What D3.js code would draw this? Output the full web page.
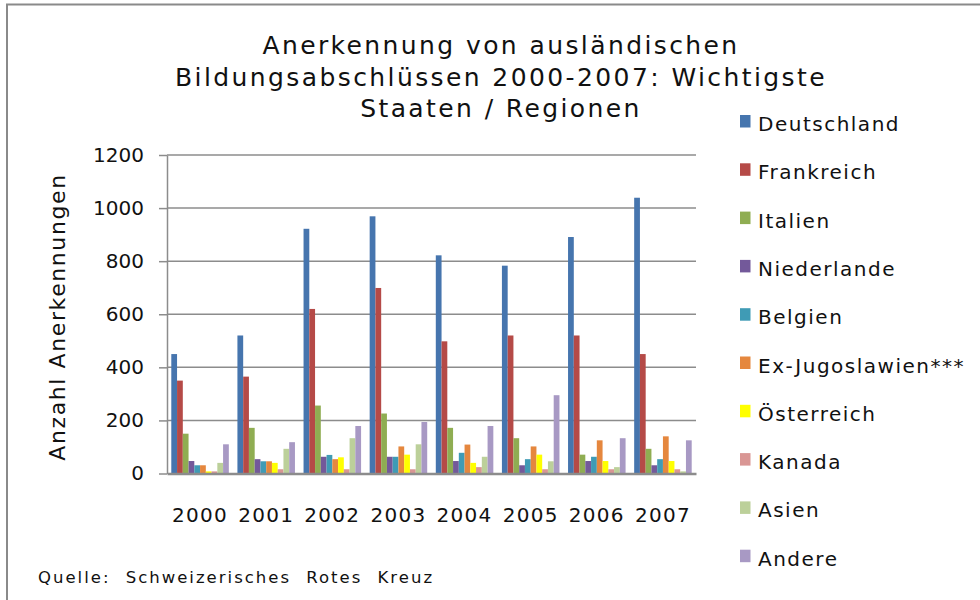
<!DOCTYPE html>
<html lang="de">
<head>
<meta charset="UTF-8">
<title>Anerkennung von ausländischen Bildungsabschlüssen</title>
<script src="https://d3js.org/d3.v7.min.js"></script>
<style>
    body { margin: 0; background: #fff; }
    svg { display: block; font-family: "DejaVu Sans", Verdana, sans-serif; }
</style>
</head>
<body>
<div id="chart"></div>
<script>
    // data
    var years = ['2000', '2001', '2002', '2003', '2004', '2005', '2006', '2007'];
    var regions = ['Deutschland', 'Frankreich', 'Italien', 'Niederlande', 'Belgien',
        'Ex-Jugoslawien***', 'Österreich', 'Kanada', 'Asien', 'Andere'];
    var deutschland = [450, 520, 922, 969, 822, 783, 891, 1039];
    var frankreich = [350, 365, 620, 699, 498, 520, 520, 450];
    var italien = [150, 172, 256, 226, 172, 133, 71, 93];
    var niederlande = [47, 54, 63, 63, 47, 31, 47, 31];
    var belgien = [31, 46, 70, 63, 78, 54, 63, 54];
    var exJugoslawien = [31, 46, 54, 102, 109, 102, 125, 140];
    var oesterreich = [8, 40, 61, 71, 40, 71, 47, 47];
    var kanada = [8, 16, 16, 16, 24, 16, 16, 16];
    var asien = [40, 93, 133, 110, 63, 46, 24, 8];
    var andere = [110, 118, 179, 194, 179, 295, 133, 125];
    var yTicks = [0, 200, 400, 600, 800, 1000, 1200];

    var series = [deutschland, frankreich, italien, niederlande, belgien,
        exJugoslawien, oesterreich, kanada, asien, andere];
    var colors = ['#4675AE', '#B54A47', '#8FAD52', '#73599A', '#3F9BB5',
        '#E5873E', '#FFFF00', '#D99694', '#BCD09A', '#A899C4'];

    var width = 980, height = 600;
    var plotLeft = 167, plotRight = 696, plotTop = 155, plotBottom = 473.5;

    var svg = d3.select('#chart').append('svg')
        .attr('width', width)
        .attr('height', height);

    // chart area border
    svg.append('rect')
        .attr('x', 7).attr('y', 4.5)
        .attr('width', width + 20).attr('height', height + 20)
        .attr('fill', '#fff')
        .attr('stroke', '#8a8a8a')
        .attr('stroke-width', 2);

    var x0 = d3.scaleBand().domain(years).range([plotLeft, plotRight]).padding(0);
    var gap = x0.bandwidth() * 0.065;
    var x1 = d3.scaleBand().domain(regions)
        .range([gap, x0.bandwidth() - gap]).padding(0);
    var y = d3.scaleLinear().domain([0, 1200]).range([plotBottom, plotTop]);

    // gridlines
    svg.append('g')
        .selectAll('line')
        .data(yTicks.slice(1))
        .enter()
        .append('line')
        .attr('x1', plotLeft).attr('x2', plotRight)
        .attr('y1', function (d) { return y(d); })
        .attr('y2', function (d) { return y(d); })
        .attr('stroke', '#8c8c8c')
        .attr('stroke-width', 1.5);

    // y axis
    var yAxis = d3.axisLeft(y).tickValues(yTicks).tickFormat(d3.format('d'))
        .tickSize(8).tickSizeOuter(0).tickPadding(15);
    var gy = svg.append('g')
        .attr('transform', 'translate(' + plotLeft + ',0)')
        .call(yAxis);
    gy.selectAll('path, line').attr('stroke', '#8c8c8c').attr('stroke-width', 1.5);
    gy.selectAll('text')
        .attr('font-size', 20)
        .attr('font-family', '"DejaVu Sans", sans-serif')
        .attr('fill', '#111');

    // bars
    var groups = svg.append('g')
        .selectAll('g')
        .data(years)
        .enter()
        .append('g')
        .attr('transform', function (d) { return 'translate(' + x0(d) + ',0)'; });

    groups.selectAll('rect')
        .data(function (yr, i) {
            return regions.map(function (r, k) { return { region: r, value: series[k][i], k: k }; });
        })
        .enter()
        .append('rect')
        .attr('x', function (d) { return x1(d.region); })
        .attr('width', x1.bandwidth())
        .attr('y', function (d) { return y(d.value); })
        .attr('height', function (d) { return y(0) - y(d.value); })
        .attr('fill', function (d) { return colors[d.k]; });

    // x axis
    var xAxis = d3.axisBottom(x0).tickSize(0).tickPadding(34);
    var gx = svg.append('g')
        .attr('transform', 'translate(0,' + plotBottom + ')')
        .call(xAxis);
    gx.select('.domain').attr('stroke', '#8c8c8c').attr('stroke-width', 2.5);
    gx.selectAll('text')
        .attr('font-size', 20)
        .attr('letter-spacing', 1.3)
        .attr('font-family', '"DejaVu Sans", sans-serif')
        .attr('fill', '#111');

    // y axis title
    svg.append('text')
        .attr('transform', 'translate(65,' + 317 + ') rotate(-90)')
        .attr('text-anchor', 'middle')
        .attr('font-size', 22)
        .attr('letter-spacing', 1.6)
        .attr('fill', '#111')
        .text('Anzahl Anerkennungen');

    // title
    var titleLines = ['Anerkennung von ausländischen', 'Bildungsabschlüssen 2000-2007: Wichtigste', 'Staaten / Regionen'];
    svg.append('g')
        .selectAll('text')
        .data(titleLines)
        .enter()
        .append('text')
        .attr('x', 501)
        .attr('y', function (d, i) { return 54 + i * 31.5; })
        .attr('text-anchor', 'middle')
        .attr('font-size', 25)
        .attr('letter-spacing', 2.4)
        .attr('fill', '#111')
        .text(function (d) { return d; });

    // legend
    var legend = svg.append('g')
        .selectAll('g')
        .data(regions)
        .enter()
        .append('g')
        .attr('transform', function (d, i) { return 'translate(740,' + (115 + i * 48.3) + ')'; });
    legend.append('rect')
        .attr('width', 10.5).attr('height', 12.5)
        .attr('fill', function (d, i) { return colors[i]; });
    legend.append('text')
        .attr('x', 18).attr('y', 16)
        .attr('font-size', 20)
        .attr('letter-spacing', 1.5)
        .attr('fill', '#111')
        .text(function (d) { return d; });

    // source
    svg.append('text')
        .attr('x', 38).attr('y', 583)
        .attr('font-size', 16.5)
        .attr('letter-spacing', 2)
        .attr('word-spacing', 8)
        .attr('fill', '#111')
        .text('Quelle: Schweizerisches Rotes Kreuz');
</script>
</body>
</html>
